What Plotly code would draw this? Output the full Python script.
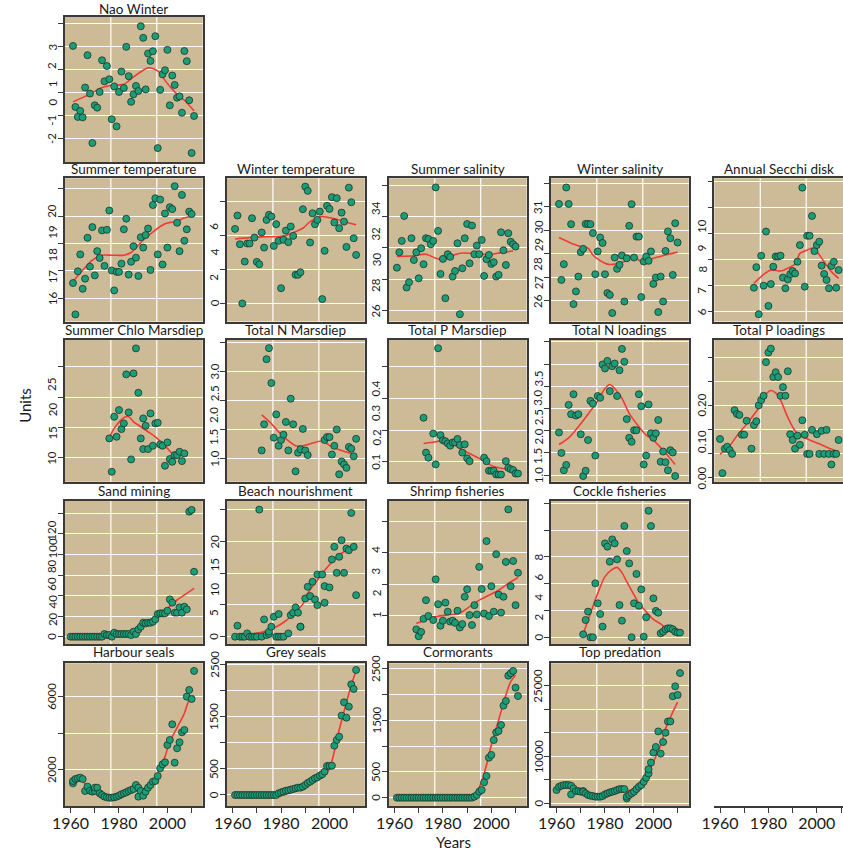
import plotly.graph_objects as go

# ---------------- data ----------------
nao_years = list(range(1961, 2012))
nao_vals = [2.02,-0.62,-1.05,-0.79,-1.07,0.22,1.62,-0.04,-2.18,-0.55,-0.65,0.03,1.40,0.49,1.15,0.58,-1.15,0.27,-1.46,0.03,
            0.91,0.20,1.98,0.71,-0.40,-0.07,0.29,0.07,2.87,2.37,0.14,1.69,1.37,1.79,2.44,-2.40,0.12,0.79,0.97,1.85,
            -0.55,0.74,0.33,-0.22,-0.16,-0.87,1.80,1.36,-0.33,-2.61,-1.01]
nao_fit_years = [1961,1967,1973,1977,1982,1986,1990,1992,1994,1997,1999,2003,2007,2011]
nao_fit_vals = [-0.40,-0.12,0.22,0.32,0.36,0.68,0.97,1.07,1.04,0.85,0.53,0.03,-0.33,-0.79]

st_years = list(range(1961, 2011))
st_vals = [16.55,15.40,16.98,17.60,16.34,16.71,18.21,17.15,18.60,16.83,17.72,17.47,18.48,17.18,18.50,19.21,17.01,16.28,16.96,16.96,
           17.26,18.52,18.91,16.86,17.33,17.90,17.48,16.81,18.23,17.85,18.31,18.55,17.03,19.41,19.66,17.60,19.61,17.23,19.10,17.85,
           19.33,19.26,20.10,18.76,17.72,19.78,18.10,18.52,19.17,19.08]
st_fit_years = [1961,1965,1969,1973,1977,1982,1985,1988,1990,1995,1999,2001,2004,2007,2010]
st_fit_vals = [16.61,17.02,17.39,17.57,17.57,17.57,17.67,17.94,18.12,18.49,18.72,18.77,18.82,18.94,19.00]

wt_years = list(range(1961, 2012))
wt_vals = [4.37,5.16,3.47,-0.02,2.45,3.51,3.51,5.00,3.86,2.43,2.29,4.16,3.27,4.90,5.20,5.10,3.37,4.65,3.67,0.88,
           3.73,4.27,3.59,4.51,3.96,1.67,1.67,1.82,5.53,6.86,6.61,3.57,5.29,4.65,4.90,5.39,0.24,3.08,5.73,5.55,
           6.24,4.75,6.18,4.41,5.33,4.80,3.31,6.80,5.94,3.82,2.84]
wt_fit_years = [1961,1967,1972,1978,1982,1986,1989,1992,1995,1997,1999,2003,2007,2011]
wt_fit_vals = [3.78,3.86,3.90,3.92,3.98,4.22,4.41,4.80,5.04,5.10,5.06,4.94,4.76,4.61]

ss_years = list(range(1961, 2011))
ss_vals = [28.74,29.72,30.45,32.04,27.47,27.81,30.62,29.23,29.72,28.06,29.98,28.96,30.62,30.57,30.23,30.45,33.87,31.09,28.34,29.30,
           26.79,29.60,29.43,28.17,28.53,30.30,25.77,28.70,30.62,31.53,29.02,31.43,29.60,30.15,29.60,30.51,28.21,29.28,29.55,28.98,
           29.09,28.17,28.28,31.00,29.85,28.91,30.94,30.40,30.23,30.09]
ss_fit_years = [1961,1968,1973,1977,1980,1983,1987,1991,1995,2000,2004,2009]
ss_fit_vals = [29.45,29.50,29.60,29.34,29.23,29.45,29.66,29.66,29.60,29.60,29.70,29.80]

ws_years = list(range(1961, 2011))
ws_vals = [30.12,26.89,27.56,30.82,30.12,29.26,25.86,26.40,27.03,28.07,28.21,29.27,29.27,29.26,28.88,27.13,28.10,28.69,28.46,27.13,
           26.33,26.25,25.48,27.84,27.36,27.53,27.93,25.97,27.81,29.19,30.11,27.84,28.73,28.73,26.16,27.67,27.88,27.70,28.10,26.72,
           26.99,25.52,27.03,25.97,28.12,28.95,28.66,27.10,29.30,28.48]
ws_fit_years = [1961,1966,1970,1973,1975,1978,1981,1984,1988,1991,1993,1996,1998,2001,2005,2010]
ws_fit_vals = [28.69,28.45,28.31,28.24,27.95,27.71,27.56,27.56,27.67,27.88,27.81,27.60,27.74,27.84,27.95,28.07]

sd_years = list(range(1974, 2010))
sd_vals = [6.92,7.71,5.90,8.15,7.00,9.08,6.22,7.06,7.73,8.12,8.12,8.15,7.31,6.90,7.24,7.44,7.56,7.47,7.92,8.56,
           10.77,6.96,8.92,8.92,9.68,8.33,8.56,8.69,7.77,7.45,7.22,6.90,7.76,7.92,6.92,7.60]
sd_fit_years = [1974,1977,1981,1985,1988,1991,1993,1996,1998,2000,2003,2006,2009]
sd_fit_vals = [7.09,7.35,7.60,7.56,7.67,7.82,8.24,8.37,8.44,8.31,7.92,7.54,7.28]

chl_years = [1976,1977,1978,1979,1980,1981,1982,1983,1984,1985,1986,1987,1988,1989,1990,1990,1991,1992,1993,1994,
             1995,1996,1997,1998,1999,2000,2001,2002,2003,2004,2005,2006,2007]
chl_vals = [13.19,7.69,16.76,13.46,17.86,14.73,15.66,23.74,17.47,9.73,23.90,28.02,20.71,13.19,16.48,11.43,15.27,11.43,17.31,11.98,
            15.66,15.77,12.20,11.98,8.68,12.53,9.78,9.34,10.44,10.44,10.99,9.45,10.71]
chl_fit_years = [1976,1978,1982,1984,1986,1989,1992,1995,1998,2000,2002,2004]
chl_fit_vals = [13.35,14.84,16.59,16.76,15.93,15.11,14.29,13.46,12.36,11.54,10.71,10.33]

tnm_years = list(range(1972, 1992)) + list(range(1998, 2012))
tnm_vals = [1.14,1.59,2.71,2.90,2.30,1.36,1.76,1.22,1.32,1.41,1.63,1.14,2.03,1.59,0.78,1.10,1.16,1.51,1.14,1.06,
            1.32,1.37,1.37,1.07,1.22,1.50,0.73,0.95,0.90,0.84,1.20,1.17,1.04,1.34]
tnm_fit_years = [1972,1976,1979,1982,1986,1989,1991,1997,2001,2005,2011]
tnm_fit_vals = [1.75,1.60,1.46,1.34,1.22,1.22,1.24,1.30,1.20,1.14,1.06]

tpm_years = [1972,1973,1974,1976,1977,1978,1979,1980,1981,1982,1983,1984,1985,1986,1987,1988,1989,1990,1991,
             1997,1998,1999,2000,2001,2002,2003,2004,2006,2007,2008,2009,2010,2011]
tpm_vals = [0.239,0.129,0.113,0.189,0.092,0.458,0.184,0.168,0.165,0.158,0.151,0.161,0.161,0.172,0.153,0.129,0.155,0.111,0.102,
            0.113,0.102,0.072,0.072,0.072,0.060,0.060,0.060,0.102,0.081,0.077,0.074,0.063,0.063]
tpm_fit_years = [1972,1977,1980,1983,1987,1991,1995,1999,2003,2007,2011]
tpm_fit_vals = [0.158,0.163,0.168,0.163,0.142,0.126,0.111,0.092,0.081,0.076,0.071]

tnl_years = list(range(1961, 2010))
tnl_vals = [1.96,1.50,1.11,1.23,2.58,2.37,2.82,2.34,2.37,1.92,0.98,1.10,1.79,2.67,2.61,1.44,2.78,2.74,3.49,3.40,
            3.57,2.89,3.45,3.51,2.78,3.36,3.84,3.55,2.26,1.84,1.75,2.01,2.01,2.82,2.55,1.24,1.44,2.59,1.94,1.84,
            1.94,2.24,1.30,1.53,1.29,1.11,1.56,1.51,0.98]
tnl_fit_years = [1961,1965,1969,1973,1977,1980,1982,1984,1987,1990,1994,1997,2000,2004,2009]
tnl_fit_vals = [1.69,1.84,2.09,2.37,2.67,2.95,3.04,2.95,2.73,2.39,2.09,1.90,1.79,1.56,1.24]

tpl_years = list(range(1960, 1972)) + list(range(1973, 1999)) + list(range(2000, 2010))
tpl_vals = [0.081,0.010,0.061,0.065,0.058,0.050,0.141,0.133,0.131,0.090,0.090,0.119,
            0.061,0.110,0.118,0.151,0.162,0.171,0.241,0.261,0.269,0.210,0.220,0.210,0.171,0.189,0.171,0.222,0.091,0.079,
            0.061,0.088,0.069,0.120,0.090,0.050,0.050,0.100,
            0.091,0.050,0.098,0.050,0.100,0.050,0.028,0.050,0.050,0.079]
tpl_fit_years = [1960,1964,1967,1971,1976,1978,1981,1983,1985,1988,1991,1993,1997,2001,2005,2009]
tpl_fit_vals = [0.049,0.067,0.088,0.112,0.146,0.168,0.182,0.177,0.162,0.126,0.098,0.088,0.079,0.071,0.062,0.055]

sm_years = list(range(1960, 2012))
sm_vals = [0]*14 + [2.6,1.6,1.6,0,3.9,2.6,2.6,2.6,2.6,2.6,2.6,1.6,4.9,2.6,7.1,9.7,13.6,13.0,13.6,13.6,
                    14.6,16.9,22.1,22.7,22.7,22.7,25.3,36.3,33.1,23.4,23.4,28.5,23.4,29.2,26.6,121.6,123.3,63.2]
sm_fit_years = [1960,1967,1974,1981,1984,1988,1992,1996,2000,2004,2008,2011]
sm_fit_vals = [0.6,1.6,2.6,3.2,4.9,9.7,14.6,21.1,27.6,35.7,42.2,47.0]

bn_years = [1961,1962,1963,1964,1965,1966,1967,1968,1969,1970,1971,1972,1973,1974,1975,1975,1976,1977,1978,1979,
            1979,1980,1981,1983,1984,1985,1986,1987,1988,1988,1990,1991,1992,1993,1994,1995,1995,1997,1998,1998,
            2000,2001,2002,2003,2004,2005,2006,2007,2008,2009,2010,2011]
bn_vals = [0,1.73,0,0,0,0.52,0,0,0,0,20.0,0,2.72,0.26,0.42,0.79,1.57,3.14,0,3.56,
           0,0,0,0.52,3.40,3.77,4.61,3.77,1.57,1.57,6.02,7.85,6.39,8.64,5.86,4.97,9.79,9.79,7.96,5.34,
           7.75,12.15,14.14,10.05,12.57,15.18,10.05,13.87,13.61,19.48,14.14,6.54]
bn_fit_years = [1961,1967,1972,1978,1982,1986,1989,1991,1995,1999,2003,2008,2011]
bn_fit_vals = [0.16,0.42,0.68,1.57,2.51,3.93,5.13,6.81,8.90,10.89,12.57,13.87,14.66]

sh_years = list(range(1969, 1975)) + list(range(1976, 2012))
sh_vals = [0.54,0.32,0.46,0.88,1.48,0.97,0.84,2.15,1.35,0.66,0.82,1.40,1.11,0.79,0.82,0.75,1.14,0.60,0.71,1.59,
           1.83,1.00,0.68,1.32,1.02,2.55,1.84,1.05,3.38,0.97,1.93,1.11,2.96,1.66,1.08,1.59,2.71,4.40,1.93,2.74,
           1.32,2.36]
sh_fit_years = [1969,1973,1977,1981,1985,1988,1991,1995,1999,2003,2007,2011]
sh_fit_vals = [0.73,0.85,0.95,1.00,1.03,1.11,1.27,1.48,1.64,1.80,2.02,2.21]

ck_years = list(range(1971, 2012))
ck_vals = [0.22,1.29,1.92,0,0,4.03,2.54,1.74,0.80,7.01,6.77,5.65,7.31,7.01,5.82,2.41,1.24,8.31,6.44,5.52,
           0,2.54,4.73,2.36,3.58,0.05,1.49,9.45,8.31,2.91,1.97,1.84,0.30,0.42,0.60,0.67,0.67,0.60,0.42,0.35,0.35]
ck_fit_years = [1971,1974,1977,1980,1983,1985,1987,1989,1992,1994,1997,2000,2003,2006,2010]
ck_fit_vals = [0.25,1.79,3.28,4.53,5.07,5.22,4.83,4.15,3.16,2.54,1.92,1.34,1.00,0.55,0.17]

hs_years = [1961,1961,1962,1963,1964,1965,1966,1967,1968,1969,1970,1970,1971,1972,1973,1974,1975,1976,1977,1978,
            1979,1980,1981,1982,1983,1984,1985,1986,1987,1988,1988,1989,1990,1991,1992,1993,1994,1995,1996,1997,
            1998,1999,2000,2001,2002,2003,2004,2005,2006,2007,2008,2009,2010,2011]
hs_vals = [1273,1400,1509,1545,1582,1509,855,1091,873,818,855,1036,1036,727,636,545,509,491,491,509,
           545,600,673,727,782,855,909,964,1182,1036,545,855,600,818,1036,1182,1364,1400,1673,2091,
           2309,2418,3364,3636,4491,2400,3182,3509,4055,4182,6000,6364,5873,7400]
hs_fit_years = [1961,1962,1963,1965,1966,1968,1970,1973,1976,1978,1981,1984,1986,1989,1990,1993,1995,1997,1999,2001,2004,2007,2009,2011]
hs_fit_vals = [1327,1491,1582,1509,1218,1000,782,600,509,545,673,782,873,873,964,1218,1582,2091,2727,3545,4309,5091,5818,6055]

gs_years = list(range(1961, 2012))
gs_vals = [0]*18 + [32,51,64,83,89,102,115,128,141,141,160,192,230,256,288,320,339,371,396,447,
                    556,556,562,946,1054,1118,1521,1776,1482,1693,2121,2032,2396]
gs_fit_years = [1961,1967,1974,1978,1982,1986,1990,1994,1998,2000,2002,2004,2006,2009,2011]
gs_fit_vals = [0,-6,-32,-32,13,83,160,268,396,511,831,1246,1598,2109,2383]

cm_years = list(range(1961, 2012))
cm_vals = [0]*32 + [19,52,117,149,298,421,777,829,1120,1269,1295,1412,1788,1878,2370,2416,2461,2137,1975]
cm_fit_years = [1961,1975,1990,1992,1994,1996,1998,2000,2002,2004,2006,2008,2010]
cm_fit_vals = [10,10,19,52,117,311,635,1023,1347,1671,1995,2254,2383]

tp_years = [1960,1961,1962,1963,1964,1965,1966,1966,1967,1968,1969,1970,1971,1971,1972,1973,1974,1975,1976,1977,
            1978,1979,1980,1981,1982,1983,1984,1985,1986,1987,1988,1989,1989,1990,1991,1992,1993,1994,1995,1996,
            1997,1998,1998,1999,2000,2001,2002,2003,2004,2005,2006,2007,2008,2009,2010,2011]
tp_vals = [2816,3520,3731,3872,3872,3872,3731,1901,3168,2605,2605,2464,2605,2464,2112,1760,1619,1549,1408,1408,
           1408,1549,1901,2112,2323,2464,2605,2816,3027,3027,3027,1056,1408,1760,2112,2464,3027,3520,3872,4576,
           5421,6336,7251,8659,10771,11968,15277,10560,13024,14995,17389,17389,22739,24851,23021,27667]
tp_fit_years = [1960,1962,1965,1967,1971,1974,1978,1982,1986,1989,1992,1994,1997,2000,2003,2005,2008,2010]
tp_fit_vals = [3520,3872,3520,2816,2112,1619,1619,2112,2464,2605,3168,4224,5843,8800,12320,15840,19360,21472]

x_tick_years = [1960, 1970, 1980, 1990, 2000, 2010]
x_tick_text = ["1960", "", "1980", "", "2000", ""]

# ---------------- panel configuration ----------------
panels = [
    dict(t="Nao Winter", r=0, c=0, x=nao_years, y=nao_vals, fx=nao_fit_years, fy=nao_fit_vals,
         yr=[-3.0, 3.27], tv=[-2, -1, 0, 1, 2, 3], lab=["-2", "-1", "0", "1", "2", "3"], k=0.79),
    dict(t="Summer temperature", r=1, c=0, x=st_years, y=st_vals, fx=st_fit_years, fy=st_fit_vals,
         yr=[15.14, 20.39], tv=[16, 17, 18, 19, 20], lab=["16", "17", "18", "19", "20"], k=0.80),
    dict(t="Winter temperature", r=1, c=1, x=wt_years, y=wt_vals, fx=wt_fit_years, fy=wt_fit_vals,
         yr=[-1.08, 7.35], tv=[0, 2, 4, 6], lab=["0", "2", "4", "6"], k=0.75),
    dict(t="Summer salinity", r=1, c=2, x=ss_years, y=ss_vals, fx=ss_fit_years, fy=ss_fit_vals,
         yr=[25.3, 34.45], tv=[26, 28, 30, 32, 34], lab=["26", "28", "30", "32", "34"], k=0.82),
    dict(t="Winter salinity", r=1, c=3, x=ws_years, y=ws_vals, fx=ws_fit_years, fy=ws_fit_vals,
         yr=[25.12, 31.21], tv=[26, 27, 28, 29, 30, 31], lab=["26", "27", "28", "29", "30", "31"], k=0.79),
    dict(t="Annual Secchi disk", r=1, c=4, x=sd_years, y=sd_vals, fx=sd_fit_years, fy=sd_fit_vals,
         yr=[5.62, 11.13], tv=[6, 7, 8, 9, 10, 11], lab=["6", "7", "8", "9", "10"], k=0.82),
    dict(t="Summer Chlo Marsdiep", r=2, c=0, x=chl_years, y=chl_vals, fx=chl_fit_years, fy=chl_fit_vals,
         yr=[6.04, 29.4], tv=[10, 15, 20, 25], lab=["10", "15", "20", "25"], k=0.80),
    dict(t="Total N Marsdiep", r=2, c=1, x=tnm_years, y=tnm_vals, fx=tnm_fit_years, fy=tnm_fit_vals,
         yr=[0.6, 3.04], tv=[1.0, 1.5, 2.0, 2.5, 3.0], lab=["1.0", "1.5", "2.0", "2.5", "3.0"], k=0.75),
    dict(t="Total P Marsdiep", r=2, c=2, x=tpm_years, y=tpm_vals, fx=tpm_fit_years, fy=tpm_fit_vals,
         yr=[0.037, 0.484], tv=[0.1, 0.2, 0.3, 0.4], lab=["0.1", "0.2", "0.3", "0.4"], k=0.77),
    dict(t="Total N loadings", r=2, c=3, x=tnl_years, y=tnl_vals, fx=tnl_fit_years, fy=tnl_fit_vals,
         yr=[0.85, 4.04], tv=[1.0, 1.5, 2.0, 2.5, 3.0, 3.5, 4.0], lab=["1.0", "1.5", "2.0", "2.5", "3.0", "3.5"], k=0.87),
    dict(t="Total P loadings", r=2, c=4, x=tpl_years, y=tpl_vals, fx=tpl_fit_years, fy=tpl_fit_vals,
         yr=[-0.008, 0.287], tv=[0, 0.05, 0.10, 0.15, 0.20, 0.25], lab=["0.00", "0.10", "0.20"], k=0.76),
    dict(t="Sand mining", r=3, c=0, x=sm_years, y=sm_vals, fx=sm_fit_years, fy=sm_fit_vals,
         yr=[-7.1, 132.3], tv=[0, 20, 40, 60, 80, 100, 120], lab=["0", "20", "40", "60", "80", "100", "120"], k=0.86),
    dict(t="Beach nourishment", r=3, c=1, x=bn_years, y=bn_vals, fx=bn_fit_years, fy=bn_fit_vals,
         yr=[-1.15, 21.4], tv=[0, 5, 10, 15, 20], lab=["0", "5", "10", "15", "20"], k=0.75),
    dict(t="Shrimp fisheries", r=3, c=2, x=sh_years, y=sh_vals, fx=sh_fit_years, fy=sh_fit_vals,
         yr=[0.07, 4.68], tv=[1, 2, 3, 4], lab=["1", "2", "3", "4"], k=0.70),
    dict(t="Cockle fisheries", r=3, c=3, x=ck_years, y=ck_vals, fx=ck_fit_years, fy=ck_fit_vals,
         yr=[-0.5, 10.2], tv=[0, 2, 4, 6, 8, 10], lab=["0", "2", "4", "6", "8"], k=0.745),
    dict(t="Harbour seals", r=4, c=0, x=hs_years, y=hs_vals, fx=hs_fit_years, fy=hs_fit_vals,
         yr=[36, 7818], tv=[2000, 4000, 6000], lab=["2000", "6000"], k=1.0),
    dict(t="Grey seals", r=4, c=1, x=gs_years, y=gs_vals, fx=gs_fit_years, fy=gs_fit_vals,
         yr=[-211, 2524], tv=[0, 500, 1000, 1500, 2000, 2500], lab=["0", "500", "1500", "2500"], k=1.0),
    dict(t="Cormorants", r=4, c=2, x=cm_years, y=cm_vals, fx=cm_fit_years, fy=cm_fit_vals,
         yr=[-162, 2610], tv=[0, 500, 1000, 1500, 2000, 2500], lab=["0", "500", "1500", "2500"], k=1.0),
    dict(t="Top predation", r=4, c=3, x=tp_years, y=tp_vals, fx=tp_fit_years, fy=tp_fit_vals,
         yr=[-567, 29740], tv=[0, 5000, 10000, 15000, 20000, 25000], lab=["0", "10000", "25000"], k=1.0),
]

# ---------------- geometry / style ----------------
W, H = 843, 850
COL_L = [52.7, 217.3, 381.7, 546.3, 712.3]
PW = 140.0
ROW_T = [17.0, 178.3, 340.0, 500.7, 663.3]
ROW_B = [162.0, 321.5, 481.8, 644.0, 806.0]
TITLE_Y = [8.5, 168.5, 329.5, 490.5, 652.0]
X0 = 1957.65
PX_PER_YEAR = 2.459
BG = "#CDBA96"
PT_FILL = "#1B9E77"
PT_EDGE = "#1d3329"
RED = "#F23B36"
FRAME = "#3a3a3a"
FONT = "Lato"
TXT = "#1a1a1a"

fig = go.Figure()
layout = {}
shapes = []
annotations = []


def ax_names(n):
    s = "" if n == 1 else str(n)
    return "x" + s, "y" + s, "xaxis" + s, "yaxis" + s


for i, p in enumerate(panels):
    n = i + 1
    xa, ya, xk, yk = ax_names(n)
    left = COL_L[p["c"]]
    right = min(left + PW, W)
    top, bot = ROW_T[p["r"]], ROW_B[p["r"]]
    xr = [X0, X0 + (right - left) / PX_PER_YEAR]
    bottom_row = p["r"] == 4
    clipped = right < left + PW

    layout[xk] = dict(domain=[left / W, right / W], range=xr, anchor=ya, showgrid=False, zeroline=False,
                      showline=True, mirror=True, linecolor=FRAME, linewidth=1.5, fixedrange=True)
    if bottom_row:
        layout[xk].update(tickmode="array", tickvals=x_tick_years, ticktext=x_tick_text, ticks="outside",
                          ticklen=5, tickwidth=1, tickcolor=FRAME, ticklabelstandoff=-3,
                          tickfont=dict(family=FONT, size=16, color=TXT))
    else:
        layout[xk].update(showticklabels=False, ticks="")

    layout[yk] = dict(domain=[1 - bot / H, 1 - top / H], range=p["yr"], anchor=xa, zeroline=False,
                      showline=True, mirror=(not clipped), linecolor=FRAME, linewidth=1.5,
                      tickmode="array", tickvals=p["tv"], ticks="outside", ticklen=5, tickwidth=1,
                      tickcolor=FRAME, showticklabels=False, showgrid=True, gridcolor="white",
                      gridwidth=1.2, fixedrange=True)

    # panel background and vertical grid lines at thirds of the panel width
    shapes.append(dict(type="rect", xref=xa + " domain", yref=ya + " domain", x0=0, x1=1, y0=0, y1=1,
                       fillcolor=BG, line=dict(width=0), layer="below"))
    for j in (1, 2):
        xv = X0 + j * (PW / PX_PER_YEAR) / 3
        shapes.append(dict(type="line", xref=xa, yref=ya + " domain", x0=xv, x1=xv, y0=0, y1=1,
                           line=dict(color="white", width=1.2), layer="below"))

    fig.add_trace(go.Scatter(x=p["fx"], y=p["fy"], mode="lines",
                             line=dict(color=RED, width=1.6, shape="spline", smoothing=0.8),
                             xaxis=xa, yaxis=ya, showlegend=False, hoverinfo="skip"))
    fig.add_trace(go.Scatter(x=p["x"], y=p["y"], mode="markers",
                             marker=dict(size=7, color=PT_FILL, line=dict(color=PT_EDGE, width=0.8)),
                             xaxis=xa, yaxis=ya, showlegend=False))

    # title
    annotations.append(dict(text=p["t"], x=(left + right) / 2 / W, y=1 - TITLE_Y[p["r"]] / H, xref="paper",
                            yref="paper", showarrow=False, xanchor="center", yanchor="middle",
                            font=dict(family=FONT, size=13.5, color=TXT)))
    # y tick labels (placed as in the reference, slightly compressed towards the lowest label)
    v0 = float(p["lab"][0])
    for lab in p["lab"]:
        v = float(lab)
        pos = v0 + (v - v0) * p["k"]
        annotations.append(dict(text=lab, x=(left - 13) / W, y=pos, xref="paper", yref=ya, showarrow=False,
                                textangle=-90, xanchor="center", yanchor="middle",
                                font=dict(family=FONT, size=11.5, color=TXT)))

# empty x axis under column 5 of the last row
n = len(panels) + 1
xa, ya, xk, yk = ax_names(n)
left = COL_L[4]
layout[xk] = dict(domain=[left / W, 1.0], range=[X0, X0 + (W - left) / PX_PER_YEAR], anchor=ya,
                  showgrid=False, zeroline=False, showline=True, linecolor=FRAME, linewidth=1.5,
                  tickmode="array", tickvals=x_tick_years, ticktext=x_tick_text, ticks="outside", ticklen=5,
                  tickwidth=1, tickcolor=FRAME, ticklabelstandoff=-3,
                  tickfont=dict(family=FONT, size=16, color=TXT), fixedrange=True)
layout[yk] = dict(domain=[1 - ROW_B[4] / H, 1 - ROW_T[4] / H], range=[0, 1], anchor=xa, visible=False,
                  fixedrange=True)
fig.add_trace(go.Scatter(x=[None], y=[None], xaxis=xa, yaxis=ya, showlegend=False, hoverinfo="skip"))

annotations.append(dict(text="Units", x=12 / W, y=1 - 405 / H, xref="paper", yref="paper", showarrow=False,
                        textangle=-90, xanchor="center", yanchor="middle",
                        font=dict(family=FONT, size=15, color=TXT)))
annotations.append(dict(text="Years", x=447 / W, y=1 - 842 / H, xref="paper", yref="paper", showarrow=False,
                        xanchor="center", yanchor="middle", font=dict(family=FONT, size=15, color=TXT)))

fig.update_layout(width=W, height=H, margin=dict(l=0, r=0, t=0, b=0), paper_bgcolor="white",
                  plot_bgcolor="rgba(0,0,0,0)", showlegend=False, shapes=shapes, annotations=annotations,
                  font=dict(family=FONT, color=TXT), **layout)

fig.write_html("out.html")
